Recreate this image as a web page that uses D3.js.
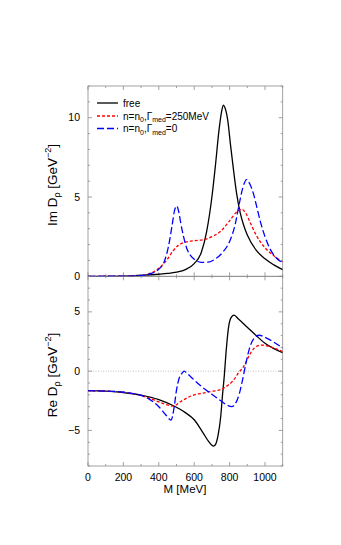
<!DOCTYPE html>
<html><head><meta charset="utf-8">
<script src="https://cdn.jsdelivr.net/npm/d3@7"></script>
<style>
html,body{margin:0;padding:0;background:#fff;}
text{font-family:"Liberation Sans",Arial,sans-serif;}
</style></head>
<body><svg id="c" width="341" height="545"></svg>
<script>
// ---- data ----
const mImFree = [0,100,200,300,400,450,500,550,600,640,670,700,720,740,755,765,775,790,805,820,840,860,880,900,950,1000,1050,1100];
const imFree  = [0,0,0.01,0.06,0.13,0.18,0.26,0.42,0.8,1.5,2.8,5.0,7.0,9.2,10.4,10.8,10.6,9.8,8.3,6.9,5.2,4.0,3.2,2.6,1.65,1.1,0.72,0.42];

const mImMed = [0,200,300,350,400,450,480,510,550,600,650,700,750,800,840,868,890,920,950,1000,1050,1100];
const imMed  = [0,0.01,0.06,0.18,0.5,1.1,1.6,1.95,2.15,2.25,2.3,2.5,2.85,3.5,4.05,4.23,4.0,3.3,2.6,1.8,1.3,0.9];

const mImZero = [0,200,300,350,400,430,455,475,490,501,512,525,540,560,580,610,640,680,720,760,800,830,855,875,896,915,935,955,975,1000,1030,1060,1100];
const imZero  = [0,0.01,0.05,0.15,0.45,0.9,1.9,3.2,4.2,4.44,4.1,3.3,2.5,1.7,1.3,1.0,0.88,0.9,1.1,1.5,2.2,3.2,4.6,5.6,6.1,5.8,5.2,4.3,3.4,2.5,1.7,1.2,0.85];

const mReFree = [0,100,200,300,400,480,550,600,650,680,700,710,720,735,750,760,770,780,795,810,825,850,900,950,1000,1050,1100];
const reFree  = [-1.65,-1.68,-1.8,-2.02,-2.4,-2.9,-3.5,-4.1,-5.2,-5.9,-6.25,-6.32,-6.2,-5.4,-3.8,-2.0,-0.4,1.6,3.8,4.55,4.72,4.4,3.7,3.0,2.35,1.9,1.55];

const mReMed = [0,100,200,300,350,400,450,482,520,560,600,650,700,750,790,820,850,878,910,940,980,1020,1060,1100];
const reMed  = [-1.65,-1.68,-1.78,-2.05,-2.3,-2.6,-2.85,-2.95,-2.6,-2.25,-2.0,-1.85,-1.7,-1.55,-1.2,-0.8,-0.15,0.36,1.3,1.95,2.2,2.1,1.9,1.65];

const mReZero = [0,100,200,300,350,400,440,469,485,500,515,530,544,560,600,650,700,750,790,812,830,855,875,890,910,935,968,1000,1050,1100];
const reZero  = [-1.65,-1.68,-1.78,-2.05,-2.4,-3.0,-3.7,-4.13,-3.2,-1.6,-0.6,-0.2,0,-0.2,-0.75,-1.4,-1.95,-2.5,-2.9,-3.0,-2.8,-1.9,-0.6,0.5,1.8,2.7,3.03,2.85,2.45,1.95];

const xTicks = [0,200,400,600,800,1000];
const imTicks = [0,5,10];
const reTicks = [-5,0,5];

// ---- layout ----
const svg = d3.select("#c");
const x = d3.scaleLinear().domain([0,1100]).range([88,282.7]);
const yIm = d3.scaleLinear().domain([0,12]).range([276.3,86]);
const yRe = d3.scaleLinear().domain([-8,8]).range([466,276.3]);
const axisCol = "#8a8a8a";

const styles = {
  free:{stroke:"#000", dash:null},
  med:{stroke:"#ff0000", dash:"3,2"},
  zero:{stroke:"#0000ff", dash:"7,3"}
};

function panel(y, yMajor, yMinorStep, drawBottomLabels){
  const [y0,y1] = y.domain();
  const top = y.range()[1], bot = y.range()[0];
  const L = x.range()[0], R = x.range()[1];
  const g = svg.append("g");
  // frame
  g.append("rect").attr("x",L).attr("y",top).attr("width",R-L).attr("height",bot-top)
    .attr("fill","none").attr("stroke",axisCol).attr("stroke-width",0.8);
  // x ticks every 100
  d3.range(0,1101,100).forEach(v=>{
    const len = v%200===0 ? 4 : 2;
    g.append("line").attr("x1",x(v)).attr("x2",x(v)).attr("y1",bot).attr("y2",bot-len).attr("stroke",axisCol).attr("stroke-width",0.8);
    g.append("line").attr("x1",x(v)).attr("x2",x(v)).attr("y1",top).attr("y2",top+len).attr("stroke",axisCol).attr("stroke-width",0.8);
  });
  // y ticks
  for(let v=Math.ceil(y0); v<=y1; v+=yMinorStep){
    const len = yMajor.includes(v) ? 4 : 2;
    g.append("line").attr("x1",L).attr("x2",L+len).attr("y1",y(v)).attr("y2",y(v)).attr("stroke",axisCol).attr("stroke-width",0.8);
    g.append("line").attr("x1",R).attr("x2",R-len).attr("y1",y(v)).attr("y2",y(v)).attr("stroke",axisCol).attr("stroke-width",0.8);
  }
  yMajor.forEach(v=>{
    g.append("text").attr("x",80).attr("y",y(v)+3.6).attr("text-anchor","end")
      .attr("font-size",10.5).text(v<0?"\u2212"+Math.abs(v):v);
  });
  if(drawBottomLabels){
    xTicks.forEach(v=>{
      g.append("text").attr("x",x(v)).attr("y",bot+15).attr("text-anchor","middle")
        .attr("font-size",10.5).text(v);
    });
  }
  return g;
}

function curve(g, y, ms, vs, st){
  const pts = ms.map((m,i)=>[m,vs[i]]);
  const line = d3.line().x(d=>x(d[0])).y(d=>y(d[1])).curve(d3.curveMonotoneX);
  g.append("path").attr("d",line(pts)).attr("fill","none")
    .attr("stroke",st.stroke).attr("stroke-width",1.3)
    .attr("stroke-dasharray",st.dash);
}

const gTop = panel(yIm, imTicks, 1, false);
const gBot = panel(yRe, reTicks, 1, true);

// dotted zero line
gBot.append("line").attr("x1",x(0)).attr("x2",x(1100)).attr("y1",yRe(0)).attr("y2",yRe(0))
  .attr("stroke","#999").attr("stroke-width",0.6).attr("stroke-dasharray","1,1.5");

const clipT = svg.append("clipPath").attr("id","ct").append("rect")
  .attr("x",x(0)).attr("y",yIm(12)).attr("width",x(1100)-x(0)).attr("height",yIm(0)-yIm(12)+1);
const clipB = svg.append("clipPath").attr("id","cb").append("rect")
  .attr("x",x(0)).attr("y",yRe(8)).attr("width",x(1100)-x(0)).attr("height",yRe(-8)-yRe(8));
const cT = gTop.append("g").attr("clip-path","url(#ct)");
const cB = gBot.append("g").attr("clip-path","url(#cb)");

curve(cT, yIm, mImFree, imFree, styles.free);
curve(cT, yIm, mImMed, imMed, styles.med);
curve(cT, yIm, mImZero, imZero, styles.zero);
curve(cB, yRe, mReFree, reFree, styles.free);
curve(cB, yRe, mReMed, reMed, styles.med);
curve(cB, yRe, mReZero, reZero, styles.zero);

// axis labels
function ylabel(cy, pre){
  const t = svg.append("text").attr("transform",`translate(57,${cy}) rotate(-90)`)
    .attr("text-anchor","middle").attr("font-size",13.5);
  t.append("tspan").text(pre+" D");
  t.append("tspan").attr("font-size",9).attr("dy",3).text("\u03c1");
  t.append("tspan").attr("dy",-3).text(" [GeV");
  t.append("tspan").attr("font-size",9).attr("dy",-6).text("\u22122");
  t.append("tspan").attr("dy",6).text("]");
}
ylabel(185, "Im");
ylabel(375, "Re");

svg.append("text").attr("x",185).attr("y",493).attr("text-anchor","middle")
  .attr("font-size",11.5).text("M [MeV]");

// legend
const legend = [
  {st:styles.free, parts:[["free"]]},
  {st:styles.med, parts:[["n=n"],["0","sub"],[",\u0393"],["med","sub"],["=250MeV"]]},
  {st:styles.zero, parts:[["n=n"],["0","sub"],[",\u0393"],["med","sub"],["=0"]]}
];
const ly = [103,116,128.5];
legend.forEach((d,i)=>{
  svg.append("line").attr("x1",97).attr("x2",118).attr("y1",ly[i]).attr("y2",ly[i])
    .attr("stroke",d.st.stroke).attr("stroke-width",1.3).attr("stroke-dasharray",d.st.dash);
  const t = svg.append("text").attr("x",123).attr("y",ly[i]+3.6).attr("font-size",10);
  let shifted = false;
  d.parts.forEach(p=>{
    const s = t.append("tspan").text(p[0]);
    if(p[1]==="sub"){ s.attr("font-size",7).attr("dy",2.5); shifted=true; }
    else if(shifted){ s.attr("dy",-2.5); shifted=false; }
  });
});
</script>
</body></html>
